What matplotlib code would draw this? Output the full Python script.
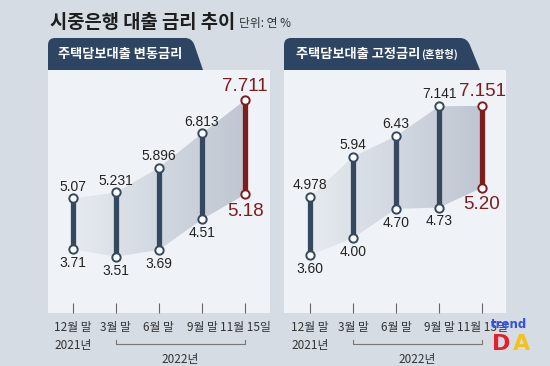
import numpy as np
import matplotlib.pyplot as plt
from matplotlib.patches import Polygon, PathPatch
from matplotlib.path import Path
from matplotlib.colors import LinearSegmentedColormap
from matplotlib.transforms import blended_transform_factory

# data
periods = ['12월 말\n2021년', '3월 말', '6월 말', '9월 말', '11월 15일']
var_hi = ['5.07', '5.231', '5.896', '6.813', '7.711']
var_lo = ['3.71', '3.51', '3.69', '4.51', '5.18']
fix_hi = ['4.978', '5.94', '6.43', '7.141', '7.151']
fix_lo = ['3.60', '4.00', '4.70', '4.73', '5.20']

KR = ['Noto Sans CJK KR', 'DejaVu Sans']
NUM = ['Liberation Sans', 'DejaVu Sans']
navy = '#34485f'
red = '#7d1d1d'
bg = '#d5dce4'
panel = '#eff3f7'
cmap = LinearSegmentedColormap.from_list('g', ['#e6eaf0', '#bec6d1'])

W, H = 550, 366
fig = plt.figure(figsize=(5.5, 3.66), dpi=100, facecolor=bg)


def fx(px):
    return px / W


def fy(py):
    return 1 - py / H


def tab(x0, x1, x2, top, bot, r=7):
    s = (x2 - x1) / (bot - top)
    v = [(x0, bot), (x0, top + r), (x0, top), (x0 + r, top), (x1 - r, top),
         (x1, top), (x1 + s * r, top + r), (x2, bot), (x0, bot)]
    c = [Path.MOVETO, Path.LINETO, Path.CURVE3, Path.CURVE3, Path.LINETO,
         Path.CURVE3, Path.CURVE3, Path.LINETO, Path.CLOSEPOLY]
    v = [(fx(a), fy(b)) for a, b in v]
    fig.patches.append(PathPatch(Path(v, c), facecolor='#2d4462',
                                 edgecolor='none', transform=fig.transFigure))


def draw(ax, hi_s, lo_s, xlim, ylim):
    hi = np.array([float(s) for s in hi_s])
    lo = np.array([float(s) for s in lo_s])
    x = np.arange(len(hi))
    poly = Polygon(np.column_stack([np.r_[x, x[::-1]], np.r_[hi, lo[::-1]]]),
                   closed=True, facecolor='none', edgecolor='none')
    ax.add_patch(poly)
    grad = np.linspace(0, 1, 256)[None, :]
    im = ax.imshow(grad, extent=[x[0], x[-1], lo.min(), hi.max()],
                   aspect='auto', cmap=cmap, zorder=1)
    im.set_clip_path(poly)
    for i in x:
        last = i == x[-1]
        c = red if last else navy
        ax.plot([i, i], [lo[i], hi[i]], color=c, lw=3.8,
                solid_capstyle='butt', zorder=2)
        ax.plot([i, i], [lo[i], hi[i]], 'o', ms=6, mfc='white', mec=c,
                mew=1.4, zorder=3)
        fs = 13.5 if last else 10
        up, dn = (10, -12) if last else (8.5, -10)
        ax.annotate(hi_s[i], (i, hi[i]), xytext=(0, up), textcoords='offset points',
                    ha='center', va='center', fontsize=fs, color=c if last else '#222',
                    family=NUM)
        ax.annotate(lo_s[i], (i, lo[i]), xytext=(0, dn), textcoords='offset points',
                    ha='center', va='center', fontsize=fs, color=c if last else '#222',
                    family=NUM)
    ax.set_xlim(*xlim)
    ax.set_ylim(*ylim)
    ax.set_yticks([])
    ax.set_xticks(x)
    ax.set_xticklabels(periods, fontsize=8.5, family=KR, color='#333',
                       linespacing=1.45)
    ax.tick_params(axis='x', direction='in', length=7, width=0.8,
                   color='#666', pad=6)
    for sp in ax.spines.values():
        sp.set_visible(False)
    # 2022 bracket
    tr = blended_transform_factory(ax.transData, ax.transAxes)
    ax.plot([1, 1, 4, 4], [-0.112, -0.128, -0.128, -0.112], color='#777',
            lw=0.8, transform=tr, clip_on=False)
    ax.text(2.5, -0.19, '2022년', transform=tr, ha='center', va='center',
            fontsize=8.5, family=KR, color='#333')


# title
fig.text(fx(50), fy(22), '시중은행 대출 금리 추이', fontsize=13.5, weight='bold',
         family=KR, color='#1e1e1e', va='center')
fig.text(fx(239), fy(24), '단위: 연 %', fontsize=8.5, family=KR, color='#333',
         va='center')

# tabs
tab(48, 192, 203, 38, 70)
tab(284, 467, 480, 38, 70)
fig.text(fx(58), fy(54), '주택담보대출 변동금리', fontsize=9.5, weight='bold',
         family=KR, color='white', va='center')
t2 = fig.text(fx(296), fy(54), '주택담보대출 고정금리', fontsize=9.5, weight='bold',
              family=KR, color='white', va='center')
fig.texts.append(plt.Annotation('(혼합형)', xy=(1, 0.5), xycoords=t2,
                                xytext=(0.5, 0), textcoords='offset points',
                                fontsize=7.5, weight='bold', family=KR,
                                color='white', va='center', ha='left'))
fig.texts[-1].set_figure(fig)

ax1 = fig.add_axes([fx(48), fy(313), (270 - 48) / W, (313 - 70) / H],
                   facecolor=panel)
draw(ax1, var_hi, var_lo, (-0.573, 4.578), (2.0, 8.515))

ax2 = fig.add_axes([fx(284), fy(313), (506 - 284) / W, (313 - 70) / H],
                   facecolor=panel)
draw(ax2, fix_hi, fix_lo, (-0.605, 4.558), (2.219, 8.005))

# watermark
fig.text(fx(491), fy(324), 'trend', fontsize=8.5, weight='bold', color='#3050e6',
         va='center', family='DejaVu Sans')
fig.text(fx(492), fy(344), 'D', fontsize=16, weight='bold', color='#e3212b',
         va='center', family='DejaVu Sans')
fig.text(fx(513), fy(344), 'A', fontsize=16, weight='bold', color='#f5c11c',
         va='center', family='DejaVu Sans')

fig.savefig('out.png', dpi=100, facecolor=bg)
